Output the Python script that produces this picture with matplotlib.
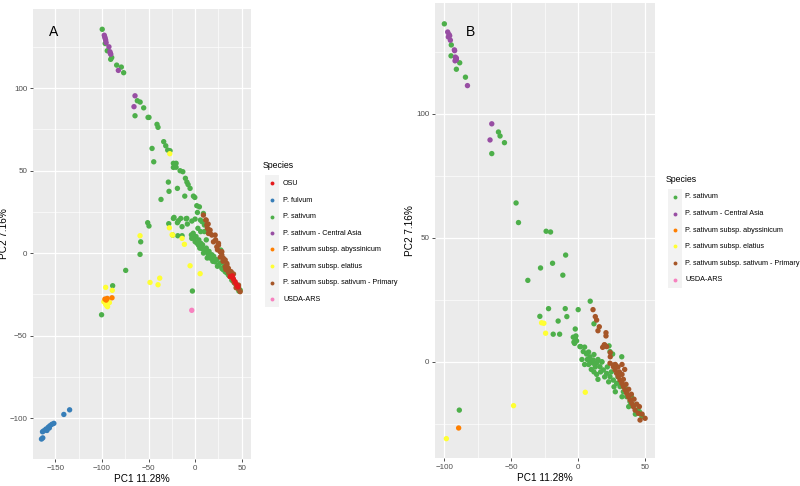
import matplotlib
matplotlib.use("Agg")
import matplotlib.pyplot as plt
from matplotlib.lines import Line2D
from matplotlib.patches import Rectangle

plt.rcParams['font.family'] = ['Liberation Sans', 'DejaVu Sans']

# ---- colours (ggplot Set1) ----
col = {
    'OSU': '#E41A1C',
    'P. fulvum': '#377EB8',
    'P. sativum': '#4DAF4A',
    'P. sativum - Central Asia': '#984EA3',
    'P. sativum subsp. abyssinicum': '#FF7F00',
    'P. sativum subsp. elatius': '#FFFF33',
    'P. sativum subsp. sativum - Primary': '#A65628',
    'USDA-ARS': '#F781BF',
}

# ---------------- panel A data ----------------
a_sativum_x = [-99.7, -96.5, -94.3, -90.6, -89.5, -84.2, -79.2, -76.7,
               -62.0, -59.0, -55.2, -64.5, -50.5, -49.5, -40.9, -39.8, -46.2, -44.4,
               -33.7, -31.5, -29.4, -26.9, -23.3, -20.4, -23.3, -20.4, -16.1, -13.2,
               -10.4, -8.8, -7.5, -5.4, -28.7, -28.0, -19.0, -11.1, -1.8, -0.3, -36.6,
               1.8, 4.6, 2.5, 8.9, -50.9, -49.5,
               -28.3, -23.3, -17.9, -14.0, -9.7, -3.5, 0.0, 5.7, -22.6, -15.4, -8.9,
               -19.0, -8.3, 7.5, 10.0,
               -58.4, -59.1, -74.5, -88.5, -100.4, -2.9,
               -24.0, -18.6, -14.0,
               -3.6, 0.0, 3.6, 7.2, 10.8, 14.3, 17.9, 21.5, 25.1, 28.7, 32.3, 35.8,
               39.4, 43.0, 46.6, 48.4,
               -2.0, -4.0, -1.0, 1.0, 2.0, 4.0, 5.0, 6.0, 8.0, 9.0, 12.0, 13.0, 15.0,
               16.0, 18.0, 19.0, 20.0, 23.0, 24.0, 27.0, 30.0, 31.0, 34.0, 37.0, 38.0,
               41.0, 44.0, 45.0, 47.0, 27.6, 12.0, 10.0, 6.0, 3.0]
a_sativum_y = [135.6, 127.0, 122.6, 117.4, 118.5, 113.9, 112.7, 109.3,
               92.3, 91.5, 88.0, 83.2, 82.2, 82.2, 78.0, 76.2, 63.4, 55.3,
               67.5, 65.0, 62.4, 62.0, 54.4, 54.4, 51.9, 52.0, 49.9, 49.3,
               45.3, 43.0, 41.5, 39.2, 43.0, 37.4, 39.2, 34.5, 34.5, 33.7, 32.5,
               28.7, 28.0, 24.6, 24.0, 18.4, 16.4,
               17.8, 21.0, 19.6, 16.0, 20.8, 19.4, 20.6, 20.0, 21.6, 21.0, 21.0,
               18.4, 17.6, 19.0, 17.0,
               6.8, -0.8, -10.5, -19.8, -37.4, -23.0,
               10.9, 10.5, 10.5,
               8.9, 6.9, 4.8, 2.8, 0.8, -1.2, -3.2, -5.3, -7.3, -9.3, -11.3, -13.3,
               -16.4, -18.4, -20.4, -22.4,
               12.0, 11.0, 9.0, 10.0, 6.0, 8.0, 3.0, 6.0, 5.0, 0.0, 3.0, -3.0, 1.0,
               -3.0, -1.0, -5.0, -2.0, -4.0, -8.0, -6.0, -10.0, -8.0, -12.0, -14.0, -12.0,
               -17.0, -19.0, -21.0, -23.0, 1.8, 8.0, 13.0, 13.0, 15.0]

a_asia_x = [-97.5, -97.0, -96.5, -96.0, -95.5, -92.5, -91.4, -91.0, -90.5, -82.4, -64.5, -65.6]
a_asia_y = [132.0, 131.0, 130.0, 129.0, 127.5, 125.0, 122.0, 121.0, 120.5, 110.7, 95.3, 88.7]

a_elatius_x = [-27.2, -27.6, -24.0, -59.1, -96.0, -88.9, -98.0, -96.0, -94.0, -92.0, -95.0,
               -48.4, -38.0, -39.8, -5.4, 5.4, -14.0, -11.5, -24.7]
a_elatius_y = [60.2, 15.3, 10.9, 10.5, -20.8, -22.6, -29.5, -31.0, -32.5, -30.0, -31.8,
               -17.8, -15.2, -19.2, -7.7, -12.5, 8.9, 5.3, 11.1]

a_abyss_x = [-96.8, -94.3, -89.2, -95.5]
a_abyss_y = [-27.9, -27.5, -27.1, -28.5]

a_primary_x = [8.9, 11.8, 12.6, 13.2, 16.1, 14.3, 18.0, 19.7, 23.3, 25.1, 26.9, 28.7, 30.4,
               34.1, 32.3, 35.8, 38.7, 41.2, 48.4, 21.5, 11.5, 14.0, 14.7, 16.1, 25.1, 28.7,
               32.3, 34.1, 37.6, 41.2, 46.6, 22.0, 24.0, 27.0, 30.0, 33.0, 36.0, 39.0, 42.0,
               44.0, 47.0]
a_primary_y = [23.0, 20.0, 17.0, 15.0, 13.9, 11.9, 10.9, 6.8, 3.8, 5.9, 0.8, -1.2, -3.2,
               -6.3, -8.3, -9.3, -11.3, -12.7, -23.4, 10.9, 20.0, 17.6, 14.0, 11.9, 4.8, 0.8,
               -4.2, -7.3, -11.3, -16.4, -19.4, 8.0, 2.0, -2.5, -5.0, -10.0, -12.0, -14.0, -18.0,
               -21.0, -22.0]

a_osu_x = [37.6, 40.0, 41.0, 43.0, 44.8, 46.0]
a_osu_y = [-14.3, -13.8, -15.5, -17.4, -19.4, -20.5]

a_fulvum_x = [-134.7, -140.9, -151.6, -153.8, -155.9, -157.7, -160.2, -162.4, -163.8,
              -164.9, -163.5, -159.0, -156.5]
a_fulvum_y = [-95.0, -97.8, -103.2, -103.8, -104.7, -105.6, -106.7, -107.7, -108.3,
              -112.7, -112.0, -107.5, -106.0]

a_usda_x = [-3.6]
a_usda_y = [-34.7]

# ---------------- panel B data ----------------
b_sativum_x = [-100.0, -94.8, -95.0, -88.5, -91.0, -84.2, -59.5, -58.3, -55.0, -64.5,
               -46.3, -44.5, -23.8, -20.5, -9.2, -19.0, -28.0, -11.3, -37.5, 9.2,
               -22.0, -9.5, 0.2, -28.5, -8.3, -14.8, 12.0, -2.0, -18.5, -13.7,
               -3.5, -2.0, -1.0, -3.0, -2.5, -1.5, 23.3, 2.0, 26.0, 32.8, -88.8,
               1.5, 6.5, 9.0, 11.5, 17.8, 24.0,
               4.0, 6.5, 9.0, 11.5, 14.0, 16.5, 19.0, 21.5, 24.0, 26.5, 29.0, 31.5,
               34.0, 36.5, 39.0, 41.5, 44.0, 47.8,
               5.0, 7.0, 8.0, 10.0, 12.0, 13.0, 15.0, 17.0, 18.0, 20.0, 22.0, 23.0,
               25.0, 27.0, 28.0, 30.0, 33.0, 35.0, 38.0, 40.0, 43.0, 46.0, 48.0,
               8.0, 10.0, 12.0, 14.0, 15.0, 5.0, 3.0]
b_sativum_y = [136.3, 127.8, 123.4, 120.6, 118.0, 114.8, 92.7, 91.1, 88.4, 84.0,
               64.1, 56.2, 52.7, 52.4, 43.1, 39.8, 37.9, 35.0, 32.9, 24.5,
               21.5, 21.5, 21.1, 18.4, 18.3, 16.5, 15.4, 13.3, 11.2, 11.2,
               10.0, 9.5, 8.5, 8.0, 7.5, 10.5, 6.5, 6.2, 3.2, 2.1, -19.4,
               6.2, 3.5, 0.8, -0.5, 0.1, 4.2,
               4.2, 3.2, 2.1, 0.8, -0.5, -1.9, -3.2, -4.6, -5.9, -7.3, -8.6, -9.9,
               -12.0, -14.0, -16.0, -17.3, -19.4, -21.4,
               6.0, 1.0, 4.0, 0.0, 3.0, -2.0, 1.0, -4.0, 0.0, -6.0, -2.0, -8.0,
               -4.0, -10.0, -12.0, -6.0, -14.0, -10.0, -18.0, -14.0, -21.0, -20.0, -22.0,
               -1.0, -3.0, -4.0, -5.0, -7.0, -1.0, 1.0]

b_asia_x = [-97.5, -96.5, -97.0, -96.0, -95.5, -92.5, -92.3, -91.8, -91.0, -92.0, -91.0,
            -82.7, -64.5, -65.8]
b_asia_y = [133.0, 132.0, 131.0, 131.5, 129.7, 125.8, 125.5, 122.9, 122.5, 121.4, 121.8,
            111.4, 96.0, 89.5]

b_abyss_x = [-89.3]
b_abyss_y = [-26.6]

b_elatius_x = [-27.2, -25.5, -24.2, 5.5, -48.2, -98.5]
b_elatius_y = [15.8, 15.6, 11.6, -12.2, -17.6, -30.9]

b_primary_x = [11.3, 13.0, 14.0, 16.0, 15.0, 21.0, 21.0, 19.7, 18.5, 21.5, 24.2, 24.2, 20.0,
               26.5, 24.0, 26.5, 27.8, 29.0, 30.2, 31.5, 32.8, 34.0, 35.3, 36.5, 37.7, 39.0,
               40.3, 41.5, 42.8, 45.3, 46.5, 50.3, 28.0, 30.0, 31.0, 33.0, 34.0, 36.0, 38.0,
               40.0, 42.0, 44.0, 46.0, 48.0, 33.0, 35.0]
b_primary_y = [21.1, 18.3, 16.9, 14.2, 12.6, 11.8, 10.5, 6.9, 5.9, 6.2, 3.8, 2.1, 6.9,
               -1.2, -0.5, -1.9, -3.2, -4.6, -5.9, -7.3, -8.6, -9.9, -11.3, -12.6, -14.0, -15.3,
               -16.7, -18.0, -19.4, -20.7, -23.4, -22.7, -1.0, -2.0, -4.0, -5.0, -7.0, -9.0, -11.0,
               -13.0, -15.0, -17.0, -18.0, -21.0, -1.0, -3.0]

legend_a = ['OSU', 'P. fulvum', 'P. sativum', 'P. sativum - Central Asia',
            'P. sativum subsp. abyssinicum', 'P. sativum subsp. elatius',
            'P. sativum subsp. sativum - Primary', 'USDA-ARS']
legend_b = ['P. sativum', 'P. sativum - Central Asia', 'P. sativum subsp. abyssinicum',
            'P. sativum subsp. elatius', 'P. sativum subsp. sativum - Primary', 'USDA-ARS']

W, H = 800, 486
fig = plt.figure(figsize=(8, 4.86), dpi=100)


def style_axes(ax, xlim, ylim, xmaj, ymaj, xmin, ymin, ylab_x):
    ax.set_facecolor('#EBEBEB')
    ax.set_xlim(*xlim)
    ax.set_ylim(*ylim)
    ax.set_xticks(xmaj)
    ax.set_yticks(ymaj)
    ax.set_xticks(xmin, minor=True)
    ax.set_yticks(ymin, minor=True)
    ax.grid(which='major', color='white', lw=0.9)
    ax.grid(which='minor', color='white', lw=0.45)
    ax.set_axisbelow(True)
    for s in ax.spines.values():
        s.set_visible(False)
    ax.tick_params(which='major', length=2.5, width=0.6, color='#333333',
                   labelsize=5.8, labelcolor='#4D4D4D', pad=1.5)
    ax.tick_params(which='minor', length=0)
    ax.set_xlabel('PC1 11.28%', fontsize=7.2, labelpad=2)
    ax.set_ylabel('PC2 7.16%', fontsize=7.2)
    ax.yaxis.set_label_coords(ylab_x, 0.5)


def scatter(ax, x, y, name):
    ax.scatter(x, y, s=15, color=col[name], edgecolors='none', zorder=3)


def draw_legend(x_dot, x_txt, y_title, y_first, names):
    # ggplot style legend in pixel coords
    fig.text(x_dot / W - 0.012, 1 - y_title / H, 'Species', fontsize=6.3,
             va='center', ha='left')
    step = 16.5
    top = y_first - step / 2
    fig.add_artist(Rectangle(((x_dot - 7) / W, 1 - (top + step * len(names)) / H),
                             14 / W, step * len(names) / H, transform=fig.transFigure,
                             facecolor='#F2F2F2', edgecolor='none'))
    for i, n in enumerate(names):
        yy = 1 - (y_first + i * step) / H
        fig.add_artist(Line2D([x_dot / W], [yy], marker='o', markersize=2.8,
                              color=col[n], markeredgewidth=0, transform=fig.transFigure))
        fig.text(x_txt / W, yy, n, fontsize=5.2, va='center', ha='left')


# ---------------- panel A ----------------
axA = fig.add_axes([33 / W, 27 / H, 218 / W, 450 / H])
style_axes(axA, (-174, 60), (-124.8, 147.9), [-150, -100, -50, 0, 50],
           [-100, -50, 0, 50, 100], [-125, -75, -25, 25], [-75, -25, 25, 75, 125], -0.11)
scatter(axA, a_sativum_x, a_sativum_y, 'P. sativum')
scatter(axA, a_asia_x, a_asia_y, 'P. sativum - Central Asia')
scatter(axA, a_elatius_x, a_elatius_y, 'P. sativum subsp. elatius')
scatter(axA, a_abyss_x, a_abyss_y, 'P. sativum subsp. abyssinicum')
scatter(axA, a_primary_x, a_primary_y, 'P. sativum subsp. sativum - Primary')
scatter(axA, a_osu_x, a_osu_y, 'OSU')
scatter(axA, a_fulvum_x, a_fulvum_y, 'P. fulvum')
scatter(axA, a_usda_x, a_usda_y, 'USDA-ARS')
axA.text(0.096, 0.949, 'A', transform=axA.transAxes, fontsize=10, ha='center', va='center')

draw_legend(272, 283, 165, 183.5, legend_a)

# ---------------- panel B ----------------
axB = fig.add_axes([435 / W, 28 / H, 220 / W, 455 / H])
style_axes(axB, (-107, 57.7), (-38.7, 144.7), [-100, -50, 0, 50],
           [0, 50, 100], [-75, -25, 25], [-25, 25, 75, 125], -0.09)
scatter(axB, b_sativum_x, b_sativum_y, 'P. sativum')
scatter(axB, b_asia_x, b_asia_y, 'P. sativum - Central Asia')
scatter(axB, b_elatius_x, b_elatius_y, 'P. sativum subsp. elatius')
scatter(axB, b_abyss_x, b_abyss_y, 'P. sativum subsp. abyssinicum')
scatter(axB, b_primary_x, b_primary_y, 'P. sativum subsp. sativum - Primary')
axB.text(0.16, 0.936, 'B', transform=axB.transAxes, fontsize=10, ha='center', va='center')

draw_legend(675, 685, 179, 197, legend_b)

fig.savefig('out.png', dpi=100)
